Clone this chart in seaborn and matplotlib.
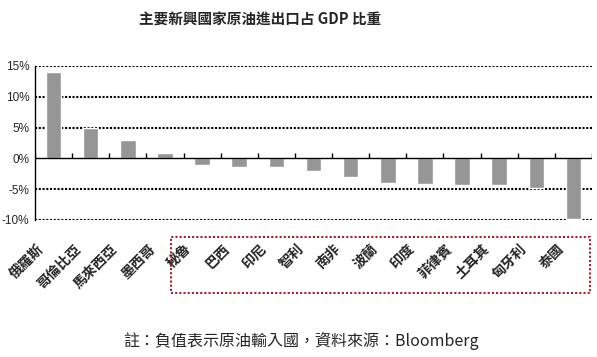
import numpy as np
import pandas as pd
import matplotlib
matplotlib.use("Agg")
import matplotlib.pyplot as plt
import matplotlib.transforms as mtransforms
from matplotlib.patches import Rectangle
import seaborn as sns

countries = ["俄羅斯", "哥倫比亞", "馬來西亞", "墨西哥", "秘魯", "巴西", "印尼", "智利",
             "南非", "波蘭", "印度", "菲律賓", "土耳其", "匈牙利", "泰國"]
share_pct = [14.0, 5.0, 3.0, 0.9, -1.0, -1.4, -1.4, -2.1,
             -3.0, -4.0, -4.2, -4.3, -4.3, -4.8, -9.8]
yticks = [-10, -5, 0, 5, 10, 15]
ytick_labels = ["-10%", "-5%", "0%", "5%", "10%", "15%"]
title = "主要新興國家原油進出口占 GDP 比重"
note = "註：負值表示原油輸入國，資料來源：Bloomberg"

sns.set_style("white")
plt.rcParams["font.family"] = ["Noto Sans CJK TC", "DejaVu Sans"]

df = pd.DataFrame({"country": countries, "share": share_pct})

fig = plt.figure(figsize=(5.97, 3.57), dpi=100)
ax = fig.add_axes([35/597, 1-220/357, (592-35)/597, (220-66)/357])

sns.barplot(data=df, x="country", y="share", color="#969696", width=0.42,
            saturation=1, ax=ax, zorder=3)

ax.set_ylim(-10, 15)
ax.set_xlim(-0.5, len(countries) - 0.5)
ax.set_xlabel("")
ax.set_ylabel("")

# gridlines (dotted)
for v in yticks:
    if v != 0:
        ax.axhline(v, color="black", lw=1.5, linestyle=(0, (1, 0.8)), zorder=1)
# zero line with upward tick marks at category boundaries
ax.axhline(0, color="black", lw=1.0, zorder=4)
bounds = np.arange(len(countries) + 1) - 0.5
ax.vlines(bounds, 0, 0.8, color="black", lw=1.0, zorder=4)

for s in ["top", "right", "bottom"]:
    ax.spines[s].set_visible(False)
ax.spines["left"].set_color("black")
ax.spines["left"].set_linewidth(1.0)

ax.set_yticks(yticks)
ax.set_yticklabels(ytick_labels, fontsize=8.5, family=["Liberation Sans"])
ax.tick_params(axis="y", length=0, pad=4)

ax.set_xticks(range(len(countries)))
ax.set_xticklabels(countries, rotation=45, ha="right", va="center",
                   rotation_mode="anchor", fontsize=10, fontweight="bold")
ax.tick_params(axis="x", length=0, pad=0)
offset = mtransforms.ScaledTranslation(-12/100, -27/100, fig.dpi_scale_trans)
for lab in ax.get_xticklabels():
    lab.set_transform(lab.get_transform() + offset)

fig.text(260/597, 1-20/357, title, ha="center", va="center",
         fontsize=10.5, fontweight="bold")
fig.text(301/597, 1-341/357, note, ha="center", va="center", fontsize=11.5)

rect = Rectangle((171/597, 1-293/357), (590-171)/597, (293-237)/357,
                 transform=fig.transFigure, fill=False, edgecolor="#9B2335",
                 lw=1.5, linestyle=(0, (1, 1)))
fig.patches.append(rect)

fig.savefig("out.png", dpi=100, facecolor="white")
